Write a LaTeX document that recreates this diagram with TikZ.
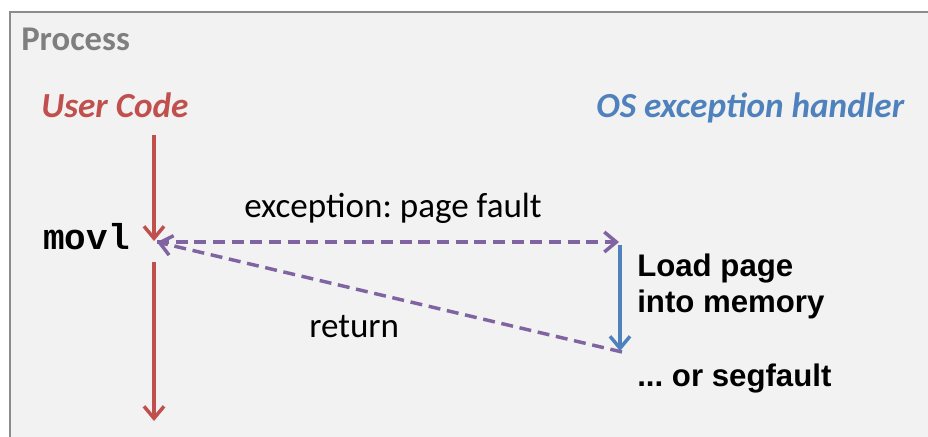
\documentclass[tikz,border=0pt]{standalone}
\usepackage{fontspec}
\setmainfont{Carlito}
\newfontfamily\arialfont{Liberation Sans}
\newfontfamily\courierfont{Liberation Mono}
\usetikzlibrary{positioning,arrows.meta}

\definecolor{procgray}{HTML}{7F7F7F}
\definecolor{boxline}{HTML}{8C8C8C}
\definecolor{boxfill}{HTML}{F2F2F2}
\definecolor{usered}{HTML}{C0504D}
\definecolor{osblue}{HTML}{4F81BD}
\definecolor{trappurple}{HTML}{8064A2}

\begin{document}
\frenchspacing
\begin{tikzpicture}[x=0.75pt,y=-0.75pt,
    heading/.style={font=\fontsize{26.4}{30}\selectfont\bfseries\itshape,
        inner sep=0pt, anchor=base west},
    plain/.style={font=\fontsize{26.3}{30}\selectfont, inner sep=0pt, anchor=base west},
    handler/.style={font=\arialfont\bfseries\fontsize{23.4}{26.3}\selectfont,
        inner sep=0pt, anchor=base west, align=left},
    flow/.style={line width=2.6pt, -{Straight Barb[length=9pt,width=15pt,line width=2.6pt]}},
    trap/.style={trappurple, line width=2.6pt, dash pattern=on 9pt off 5pt,
        -{Straight Barb[length=9pt,width=15pt,line width=2.6pt]}}
]
\useasboundingbox (0,0) rectangle (928,436);
\clip (0,0) rectangle (928,436);
\fill[white] (0,0) rectangle (928,436);
\draw[boxline, fill=boxfill, line width=2.2pt] (10,12) rectangle (960,470);

% labels
\node (Process) [plain, font=\fontsize{26}{30}\selectfont\bfseries, text=procgray] at (21,50) {Process};
\node (UserCode) [heading, text=usered] at (41,117) {User Code};
\node (OsHandler) [heading, text=osblue] at (596,117) {OS exception handler};
\node (Movl) [inner sep=0pt, anchor=base west, font=\courierfont\bfseries\fontsize{27}{30}\selectfont] at (43,249) {movl};
\node (Fault) [plain] at (244,217) {exception: page fault};
\node (Return) [plain] at (309,337) {return};
\node (LoadPage) [handler] at (637,312) {Load page\\into memory};
\node (Segfault) [handler] at (637,386) {... or segfault};

% arrow ends
\coordinate (UserTop) at (154,135);
\coordinate (MovlHit) at (154,241);
\coordinate (UserResume) at (154,262);
\coordinate (UserEnd) at (154,421);
\coordinate (TrapLeft) at (157,242);
\coordinate (HandlerTop) at (619,242);
\coordinate (HandlerStart) at (620,245);
\coordinate (HandlerEnd) at (620,351);
\coordinate (HandlerRet) at (622,352);

\draw[flow, usered] (UserTop) -- (MovlHit);
\draw[flow, usered] (UserResume) -- (UserEnd);
\draw[trap] (TrapLeft) -- (HandlerTop);
\draw[trap] (HandlerRet) -- (TrapLeft);
\draw[flow, osblue, line width=2.3pt] (HandlerStart) -- (HandlerEnd);
\end{tikzpicture}
\end{document}
